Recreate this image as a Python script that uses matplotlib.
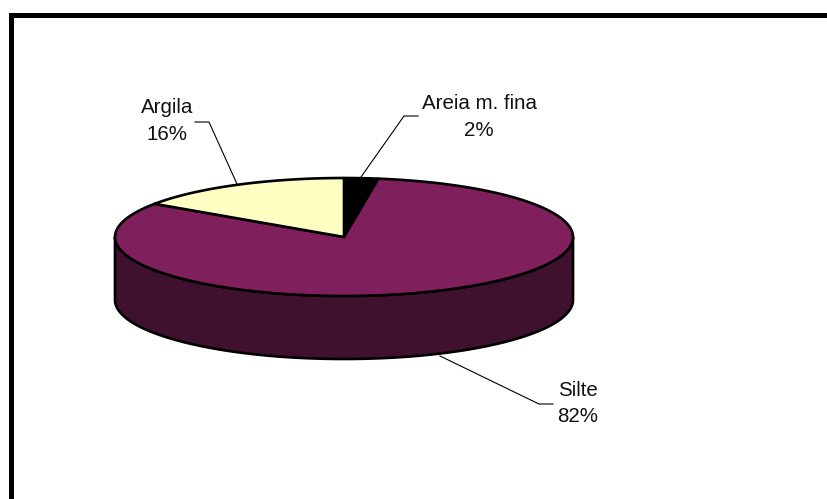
import numpy as np
import matplotlib
matplotlib.use("Agg")
import matplotlib.pyplot as plt
from matplotlib.patches import Polygon

plt.rcParams['font.family'] = ['Liberation Sans', 'DejaVu Sans']

# values, clockwise from 12 o'clock
labels = ['Areia m. fina', 'Silte', 'Argila']
shares = [2.4, 82.1, 15.5]
percent_labels = ['2%', '82%', '16%']
colors = ['#000000', '#7F1F5C', '#FFFFC4']
side_color = '#3F112E'

cx, cy = 344, 237
rx, ry = 229, 59
depth = 63

fig = plt.figure(figsize=(8.27, 4.99), dpi=100)
ax = fig.add_axes([0, 0, 1, 1])
ax.set_xlim(0, 827)
ax.set_ylim(499, 0)
ax.axis('off')


def rim(angle):
    # angle in degrees, clockwise from the top of the ellipse
    t = np.radians(angle)
    return cx + rx * np.sin(t), cy - ry * np.cos(t)


# frame, only top and left are inside the picture
ax.plot([10.5, 10.5, 827], [499, 14.5, 14.5], color='black', lw=3.6, solid_joinstyle='miter')

# side wall (front half of the disc)
t = np.linspace(90, 270, 200)
x, y = rim(t)
wall = np.column_stack([np.r_[x, x[::-1]], np.r_[y + depth, y[::-1]]])
ax.add_patch(Polygon(wall, closed=True, facecolor=side_color, edgecolor='black', linewidth=1.9, joinstyle='round'))

# top slices
start = 0
for share, color in zip(shares, colors):
    end = start + share * 3.6
    t = np.linspace(start, end, 200)
    x, y = rim(t)
    pts = np.column_stack([np.r_[cx, x], np.r_[cy, y]])
    ax.add_patch(Polygon(pts, closed=True, facecolor=color, edgecolor='black', linewidth=1.9, joinstyle='round'))
    start = end

# leader lines
ax.plot([361, 404, 418], [177, 116, 116], color='black', lw=0.8)
ax.plot([237, 209, 195], [184, 122, 122], color='black', lw=0.8)
ax.plot([440, 539, 553], [356, 404, 404], color='black', lw=0.8)

# labels
font = 14.8
ax.text(479, 103, labels[0], ha='center', va='center', fontsize=font, color='#111111')
ax.text(479, 130, percent_labels[0], ha='center', va='center', fontsize=font, color='#111111')
ax.text(167, 107, labels[2], ha='center', va='center', fontsize=font, color='#111111')
ax.text(167, 135, percent_labels[2], ha='center', va='center', fontsize=font, color='#111111')
ax.text(578, 390, labels[1], ha='center', va='center', fontsize=font, color='#111111')
ax.text(578, 417, percent_labels[1], ha='center', va='center', fontsize=font, color='#111111')

fig.savefig('out.png', dpi=100)
